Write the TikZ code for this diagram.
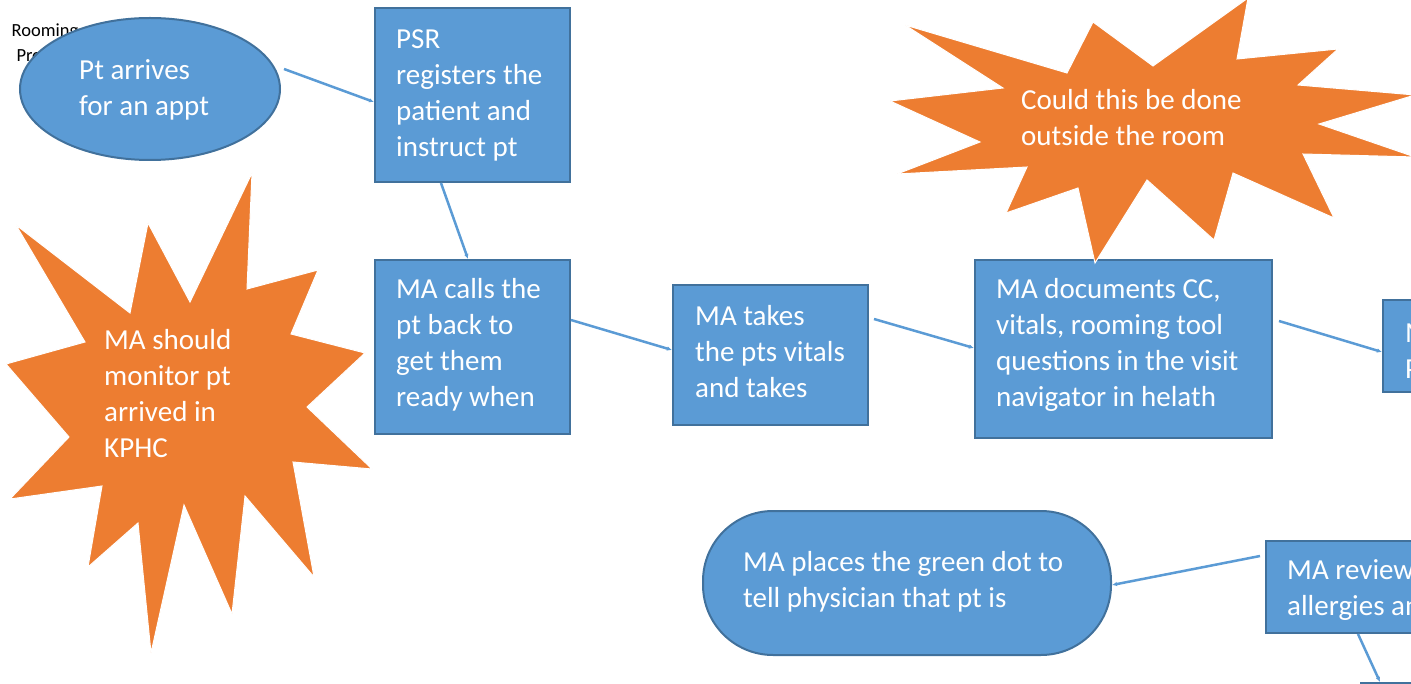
\documentclass[tikz,border=0pt]{standalone}
\usepackage{fontspec}
\setmainfont{Carlito}
\usetikzlibrary{positioning,arrows.meta,shapes.geometric}
\definecolor{boxblue}{HTML}{5B9BD5}
\definecolor{edgeblue}{HTML}{41719C}
\definecolor{burstorange}{HTML}{ED7D31}
\tikzset{
  % Specifications for style of nodes:
  base/.style = {
    draw=edgeblue,
    line width=2pt,
    fill=boxblue
  },
  procbox/.style = {
    base,
    rectangle,
    minimum width=195pt
  },
  terminal/.style = {
    base,
    rectangle,
    rounded corners=70pt,
    minimum width=408pt,
    minimum height=144pt
  },
  burst/.style = {
    fill=burstorange,
    draw=white,
    line width=1pt
  },
  boxtext/.style = {
    text=white,
    align=left,
    inner sep=0pt,
    anchor=west,
    font=\fontsize{29}{36}\selectfont
  },
  link/.style = {
    draw=boxblue,
    line width=2.5pt,
    -{Latex[length=5pt,width=4.5pt]}
  },
}

\begin{document}
\begin{tikzpicture}[x=1pt,y=-1pt]
    \useasboundingbox (0,0) rectangle (1411,684);
    \clip (0,0) rectangle (1411,684);
    % Title, mostly hidden under the first shape
    \node[align=center, inner sep=0pt, font=\fontsize{18.5}{25}\selectfont] (title) at (45,43) {Rooming\\Process};
    % Specification of nodes (position, etc.)
    \node[base, ellipse, minimum width=260pt, minimum height=142pt, inner sep=0pt] (arrive) at (150,89) {};
    \node[procbox, minimum height=174pt] (psr) at (472.5,95) {};
    \node[procbox, minimum height=174pt] (calls) at (472.5,347) {};
    \node[procbox, minimum height=140pt, right=101pt of calls, yshift=-8pt] (takes) {};
    \node[procbox, minimum width=297pt, minimum height=178pt, right=105pt of takes, yshift=6pt] (docs) {};
    \node[procbox, minimum height=92pt, anchor=west] (nextbox) at (1382,346) {};
    \node[procbox, minimum width=250pt, minimum height=92pt, anchor=west] (reviews) at (1265,587) {};
    \node[terminal] (greendot) at (907,583) {};
    \node[procbox, minimum width=200pt, minimum height=100pt, anchor=north west] (lower) at (1360,682) {};
    % Texts of the nodes
    \node[boxtext] (arrivetext) at (79,90) {Pt arrives\\for an appt};
    \node[boxtext] (psrtext) at (396,95) {PSR\\registers the\\patient and\\instruct pt};
    \node[boxtext] (callstext) at (396,345) {MA calls the\\pt back to\\get them\\ready when};
    \node[boxtext] (takestext) at (695,351.5) {MA takes\\the pts vitals\\and takes};
    \node[boxtext] (docstext) at (996,345) {MA documents CC,\\vitals, rooming tool\\questions in the visit\\navigator in helath};
    \node[boxtext] (nexttext) at (1405,351.5) {M\\P};
    \node[boxtext] (reviewstext) at (1287,590) {MA reviews\\allergies and};
    \node[boxtext] (greendottext) at (743,582) {MA places the green dot to\\tell physician that pt is};
    % Starbursts
    \fill[burst] (252,173) -- (247,289) -- (318,270) -- (291,334) -- (365,353) -- (307,407)
      -- (372,469) -- (293,462) -- (314,577) -- (245,496) -- (232,614) -- (184,505)
      -- (151,653) -- (138,523) -- (88,567) -- (102,486) -- (10,499) -- (69,437)
      -- (6,364) -- (85,342) -- (16,225) -- (130,313) -- (148,223) -- (190,302) -- cycle;
    \node[boxtext] (monitor) at (104,394) {MA should\\monitor pt\\arrived in\\KPHC};
    \filldraw[burst] (1248,-2) -- (1237,59) -- (1338,49) -- (1298,85) -- (1415,95) -- (1319,124)
      -- (1415,157) -- (1303,154) -- (1334,218) -- (1233,173) -- (1214,240) -- (1147,180)
      -- (1095,263) -- (1078,188) -- (1006,213) -- (1027,167) -- (897,174) -- (980,142)
      -- (890,101) -- (1003,88) -- (905,25) -- (1067,73) -- (1093,22) -- (1153,66) -- cycle;
    \node[boxtext] (outside) at (1021,118) {Could this be done\\outside the room};
    % Connectors
    \draw[link] ([xshift=3pt,yshift=20pt]arrive.east) -- ([yshift=-7pt]psr.west);
    \draw[link] ([xshift=-31.5pt]psr.south) -- ([xshift=-4.5pt]calls.north);
    \draw[link] ([yshift=27pt]calls.east) -- ([yshift=5pt]takes.west);
    \draw[link] ([xshift=5pt,yshift=36pt]takes.east) -- ([yshift=1pt]docs.west);
    \draw[link] ([xshift=6pt,yshift=28pt]docs.east) -- ([yshift=-6pt]nextbox.west);
    \draw[link] ([xshift=-5pt,yshift=31pt]reviews.west) -- ([yshift=-2pt]greendot.east);
    \draw[link] ([xshift=93pt]reviews.south west) -- ([xshift=20pt]lower.north west);
\end{tikzpicture}
\end{document}
